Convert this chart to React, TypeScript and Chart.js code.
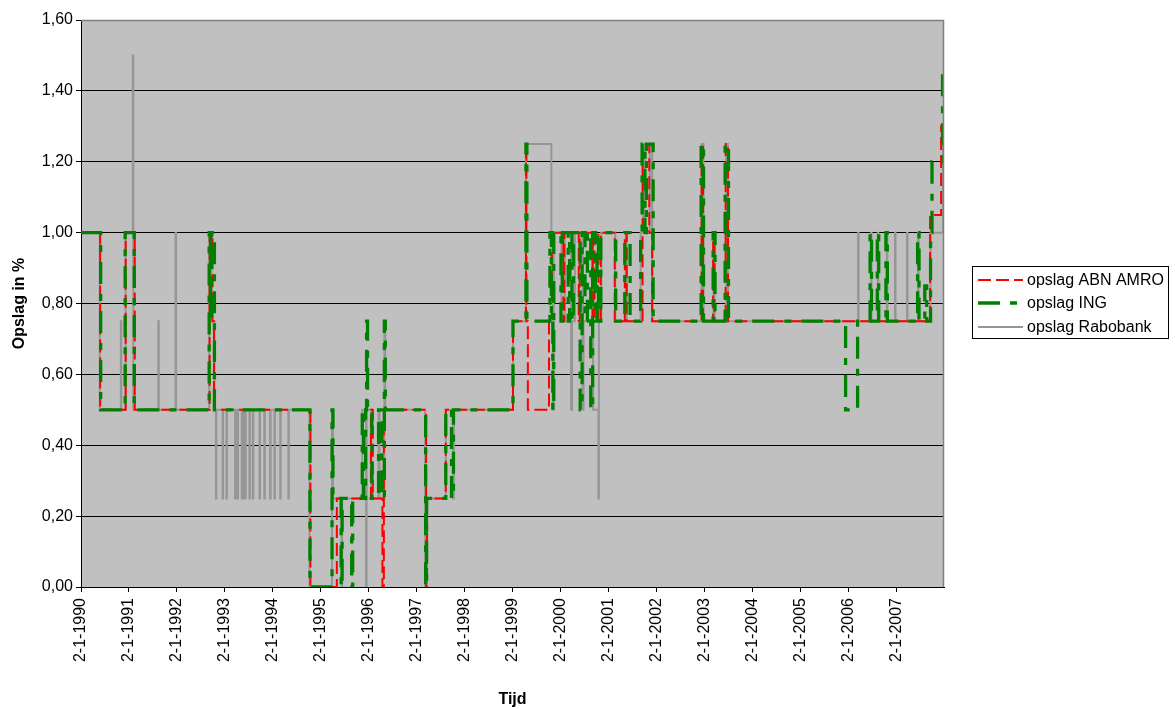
import React, { useEffect, useRef } from "react";
import { Chart, registerables } from "chart.js";

Chart.register(...registerables);

// ---- Data (time in fractional years, value = opslag in %) ----
const yearTicks = [1990, 1991, 1992, 1993, 1994, 1995, 1996, 1997, 1998, 1999, 2000, 2001, 2002, 2003, 2004, 2005, 2006, 2007];

const abnDates = [
  1990.0, 1990.4, 1990.93, 1991.12, 1992.68, 1992.74, 1992.77, 1994.78, 1995.33, 1996.04,
  1996.08, 1996.28, 1996.31, 1997.19, 1997.21, 1997.6, 1999.0, 1999.27, 1999.28, 1999.31,
  1999.75, 1999.81, 2000.05, 2000.07, 2000.37, 2000.39, 2000.66, 2000.7, 2000.78, 2000.83,
  2001.12, 2001.33, 2001.37, 2001.7, 2001.84, 2001.9, 2002.93, 2002.96, 2003.17, 2003.2,
  2003.43, 2003.48, 2007.69, 2007.92, 2007.98,
];
const abnValues = [
  1.0, 0.5, 1.0, 0.5, 1.0, 0.75, 0.5, 0.0, 0.25, 0.5,
  0.25, 0.0, 0.5, 0.0, 0.25, 0.5, 0.75, 1.25, 0.75, 0.5,
  0.75, 1.0, 0.75, 1.0, 0.75, 1.0, 0.75, 1.0, 0.75, 1.0,
  0.75, 1.0, 0.75, 1.25, 1.0, 0.75, 1.25, 0.75, 1.0, 0.75,
  1.25, 0.75, 1.05, 1.3, 1.3,
];

const ingDates = [
  1990.0, 1990.41, 1990.92, 1991.11, 1992.67, 1992.7, 1992.72, 1992.78, 1994.77, 1995.23,
  1995.25, 1995.42, 1995.44, 1995.64, 1995.66, 1995.86, 1995.89, 1995.93, 1995.95, 1995.97,
  1996.06, 1996.2, 1996.27, 1996.32, 1996.34, 1997.18, 1997.2, 1997.6, 1997.72, 1997.76,
  1999.0, 1999.27, 1999.29, 1999.77, 1999.8, 1999.83, 1999.85, 2000.0, 2000.03, 2000.15,
  2000.18, 2000.23, 2000.26, 2000.4, 2000.44, 2000.5, 2000.55, 2000.62, 2000.66, 2000.72,
  2000.75, 2000.78, 2000.83, 2001.14, 2001.33, 2001.44, 2001.66, 2001.69, 2001.75, 2001.78,
  2001.92, 2002.92, 2002.97, 2003.17, 2003.21, 2003.42, 2003.49, 2005.93, 2006.18, 2006.44,
  2006.47, 2006.59, 2006.62, 2006.77, 2006.8, 2007.43, 2007.46, 2007.58, 2007.62, 2007.7,
  2007.73, 2007.95, 2007.98,
];
const ingValues = [
  1.0, 0.5, 1.0, 0.5, 1.0, 0.75, 1.0, 0.5, 0.0, 0.5,
  0.25, 0.0, 0.25, 0.0, 0.25, 0.5, 0.25, 0.5, 0.75, 0.5,
  0.25, 0.5, 0.25, 0.75, 0.5, 0.0, 0.25, 0.5, 0.25, 0.5,
  0.75, 1.25, 0.75, 1.0, 0.75, 0.5, 1.0, 0.75, 1.0, 0.75,
  1.0, 0.75, 1.0, 0.5, 1.0, 0.75, 1.0, 0.5, 1.0, 0.75,
  1.0, 0.75, 1.0, 0.75, 1.0, 0.75, 1.0, 1.25, 1.0, 1.25,
  0.75, 1.25, 0.75, 1.0, 0.75, 1.25, 0.75, 0.5, 0.75, 1.0,
  0.75, 1.0, 0.75, 1.0, 0.75, 1.0, 0.75, 0.85, 0.75, 1.0,
  1.2, 1.45, 1.45,
];

const raboDates = [
  1990.0, 1990.39, 1990.83, 1990.84, 1990.93, 1991.08, 1991.09, 1991.61, 1991.62, 1991.97,
  1991.98, 1992.67, 1992.72, 1992.78,
  1992.81, 1992.82, 1992.95, 1992.96, 1993.03, 1993.04, 1993.21, 1993.22, 1993.23, 1993.24,
  1993.26, 1993.27, 1993.35, 1993.36, 1993.37, 1993.38, 1993.4, 1993.41, 1993.42, 1993.43,
  1993.51, 1993.52, 1993.58, 1993.59, 1993.72, 1993.73, 1993.82, 1993.83, 1993.94, 1993.95,
  1994.03, 1994.04, 1994.15, 1994.16, 1994.32, 1994.33,
  1994.76, 1995.23, 1995.25, 1995.43, 1995.44, 1995.86, 1995.94, 1995.95, 1996.05, 1996.2,
  1996.22, 1996.32, 1996.34, 1997.17, 1997.2, 1997.6, 1997.75, 1997.77, 1999.0, 1999.27,
  1999.8, 1999.83, 1999.85, 2000.01, 2000.08, 2000.21, 2000.23, 2000.29, 2000.45, 2000.47,
  2000.65, 2000.67, 2000.78, 2000.79, 2000.84, 2001.13, 2001.35, 2001.37, 2001.66, 2001.71,
  2001.74, 2001.85, 2001.9, 2002.93, 2002.97, 2003.18, 2003.2, 2003.44, 2003.48, 2006.19,
  2006.2, 2006.46, 2006.47, 2006.6, 2006.61, 2006.79, 2006.8, 2006.96, 2006.97, 2007.21,
  2007.22, 2007.44, 2007.45, 2007.7, 2007.96, 2007.98,
];
const raboValues = [
  1.0, 0.5, 0.75, 0.5, 1.0, 1.5, 0.5, 0.75, 0.5, 1.0,
  0.5, 1.0, 0.75, 0.5,
  0.25, 0.5, 0.25, 0.5, 0.25, 0.5, 0.25, 0.5, 0.25, 0.5,
  0.25, 0.5, 0.25, 0.5, 0.25, 0.5, 0.25, 0.5, 0.25, 0.5,
  0.25, 0.5, 0.25, 0.5, 0.25, 0.5, 0.25, 0.5, 0.25, 0.5,
  0.25, 0.5, 0.25, 0.5, 0.25, 0.5,
  0.0, 0.5, 0.25, 0.0, 0.25, 0.5, 0.0, 0.5, 0.25, 0.5,
  0.25, 0.75, 0.5, 0.0, 0.25, 0.5, 0.25, 0.5, 0.75, 1.25,
  1.0, 0.5, 1.0, 0.75, 1.0, 0.5, 0.75, 1.0, 0.5, 0.75,
  1.0, 0.5, 0.25, 0.75, 1.0, 0.75, 1.0, 0.75, 1.0, 1.25,
  1.0, 1.25, 0.75, 1.25, 0.75, 1.0, 0.75, 1.25, 0.75, 1.0,
  0.75, 1.0, 0.75, 1.0, 0.75, 1.0, 0.75, 1.0, 0.75, 1.0,
  0.75, 1.0, 0.75, 1.0, 1.25, 1.25,
];

const seriesNames = ["opslag ABN AMRO", "opslag ING", "opslag Rabobank"];

const FONT = "'Liberation Sans', Arial, sans-serif";

function toPoints(dates: number[], values: number[]) {
  return dates.map((d, i) => ({ x: d, y: values[i] }));
}

const RED_DASH = [13, 5];
const GREEN_DASH = [22, 10, 7, 10];

const plotBgPlugin = {
  id: "plotBg",
  beforeDraw(chart: any) {
    const { ctx, chartArea } = chart;
    ctx.save();
    ctx.fillStyle = "#C0C0C0";
    ctx.fillRect(chartArea.left, chartArea.top, chartArea.right - chartArea.left, chartArea.bottom - chartArea.top);
    ctx.restore();
  },
  afterDraw(chart: any) {
    const { ctx, chartArea } = chart;
    ctx.save();
    ctx.strokeStyle = "#808080";
    ctx.lineWidth = 1.5;
    ctx.beginPath();
    ctx.moveTo(chartArea.left, chartArea.top + 0.5);
    ctx.lineTo(chartArea.right - 0.5, chartArea.top + 0.5);
    ctx.lineTo(chartArea.right - 0.5, chartArea.bottom);
    ctx.stroke();
    ctx.restore();

    // legend
    const lx = 972.5, ly = 266.5, lw = 196, lh = 72;
    ctx.save();
    ctx.fillStyle = "#FFFFFF";
    ctx.fillRect(lx, ly, lw, lh);
    ctx.strokeStyle = "#000000";
    ctx.lineWidth = 1;
    ctx.strokeRect(lx, ly, lw, lh);
    const rows = [
      { y: 280, color: "#FF0000", width: 2, dash: RED_DASH },
      { y: 303, color: "#008000", width: 3.3, dash: GREEN_DASH },
      { y: 327, color: "#969696", width: 2, dash: [] as number[] },
    ];
    rows.forEach((r, i) => {
      ctx.beginPath();
      ctx.setLineDash(r.dash);
      ctx.strokeStyle = r.color;
      ctx.lineWidth = r.width;
      ctx.lineCap = "butt";
      ctx.moveTo(978, r.y);
      ctx.lineTo(1023, r.y);
      ctx.stroke();
      ctx.setLineDash([]);
      ctx.fillStyle = "#000000";
      ctx.font = `16px ${FONT}`;
      ctx.textBaseline = "middle";
      ctx.textAlign = "left";
      ctx.fillText(seriesNames[i], 1027, r.y + 1);
    });
    ctx.restore();
  },
};

export default function App() {
  const ref = useRef<HTMLCanvasElement | null>(null);

  useEffect(() => {
    document.body.style.margin = "0";
    const canvas = ref.current;
    if (!canvas) return;
    const chart = new Chart(canvas, {
      type: "line",
      data: {
        datasets: [
          {
            label: seriesNames[0],
            data: toPoints(abnDates, abnValues),
            borderColor: "#FF0000",
            borderWidth: 2,
            borderDash: RED_DASH,
            stepped: true,
            pointRadius: 0,
            fill: false,
            order: 1,
          },
          {
            label: seriesNames[1],
            data: toPoints(ingDates, ingValues),
            borderColor: "#008000",
            borderWidth: 3.3,
            borderDash: GREEN_DASH,
            stepped: true,
            pointRadius: 0,
            fill: false,
            order: 0,
          },
          {
            label: seriesNames[2],
            data: toPoints(raboDates, raboValues),
            borderColor: "#969696",
            borderWidth: 2,
            stepped: true,
            pointRadius: 0,
            fill: false,
            order: 2,
          },
        ],
      },
      options: {
        animation: false,
        responsive: false,
        devicePixelRatio: 1,
        parsing: false as any,
        layout: { padding: { left: 0, top: 20, right: 231, bottom: 0 } },
        plugins: {
          legend: { display: false },
          tooltip: { enabled: false },
          title: { display: false },
        },
        scales: {
          x: {
            type: "linear",
            min: 1990,
            max: 2007.98,
            afterBuildTicks: (scale: any) => {
              scale.ticks = yearTicks.map((v) => ({ value: v }));
            },
            afterFit: (scale: any) => {
              scale.height = 122;
            },
            ticks: {
              autoSkip: false,
              maxRotation: 90,
              minRotation: 90,
              padding: 6,
              color: "#000000",
              font: { family: FONT, size: 16 },
              callback: (v: any) => "2-1-" + v,
            },
            grid: {
              drawOnChartArea: false,
              drawTicks: true,
              tickLength: 5,
              tickColor: "#000000",
            },
            border: { display: true, color: "#000000", width: 1 },
            title: {
              display: true,
              text: "Tijd",
              color: "#000000",
              font: { family: FONT, size: 16, weight: "bold" },
              padding: { top: 0, bottom: 0 },
            },
          },
          y: {
            type: "linear",
            min: 0,
            max: 1.6,
            afterFit: (scale: any) => {
              scale.width = 81;
            },
            ticks: {
              stepSize: 0.2,
              padding: 3,
              color: "#000000",
              font: { family: FONT, size: 16 },
              callback: (v: any) => Number(v).toFixed(2).replace(".", ","),
            },
            grid: {
              color: "#000000",
              lineWidth: 1,
              tickLength: 5,
              tickColor: "#000000",
            },
            border: { display: true, color: "#000000", width: 1 },
            title: {
              display: true,
              text: "Opslag in %",
              color: "#000000",
              font: { family: FONT, size: 16, weight: "bold" },
              padding: { top: 10, bottom: 0 },
            },
          },
        },
      },
      plugins: [plotBgPlugin],
    });
    return () => chart.destroy();
  }, []);

  return (
    <div style={{ position: "fixed", left: 0, top: 0, width: 1175, height: 709, background: "#FFFFFF" }}>
      <canvas ref={ref} width={1175} height={709} style={{ display: "block", width: 1175, height: 709 }} />
    </div>
  );
}
